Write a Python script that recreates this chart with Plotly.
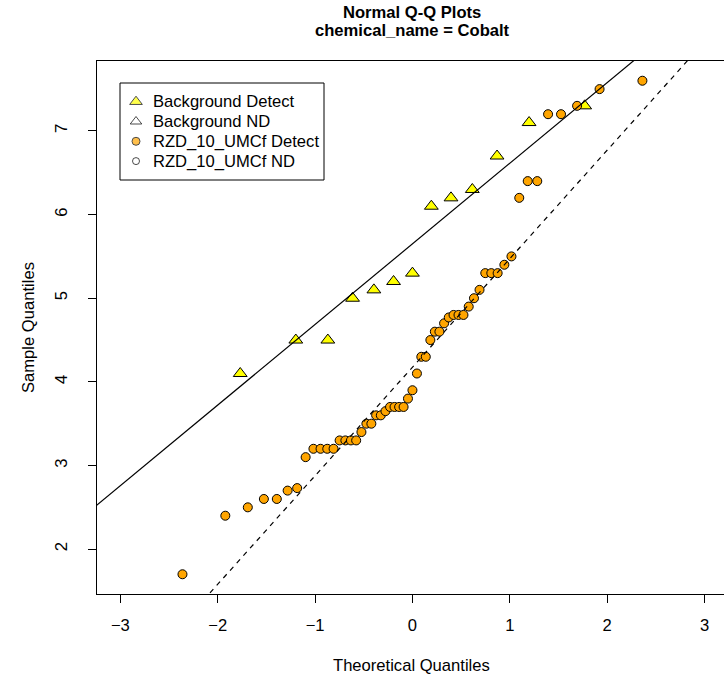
import plotly.graph_objects as go
import numpy as np

# Normal Q-Q data for Cobalt
bg_theo = [-1.769, -1.198, -0.869, -0.615, -0.396, -0.194, 0.0,
           0.194, 0.396, 0.615, 0.869, 1.198, 1.769]
bg_vals = [4.1, 4.5, 4.5, 5.0, 5.1, 5.2, 5.3, 6.1, 6.2, 6.3, 6.7, 7.1, 7.3]

rzd_theo = [-2.362, -1.922, -1.691, -1.526, -1.393, -1.282, -1.184, -1.097,
            -1.017, -0.944, -0.875, -0.810, -0.748, -0.689, -0.632, -0.578,
            -0.524, -0.473, -0.422, -0.373, -0.325, -0.277, -0.230, -0.184,
            -0.137, -0.091, -0.046, 0.0,
            0.046, 0.091, 0.137, 0.184, 0.230, 0.277, 0.325, 0.373, 0.422,
            0.473, 0.524, 0.578, 0.632, 0.689, 0.748, 0.810, 0.875, 0.944,
            1.017, 1.097, 1.184, 1.282, 1.393, 1.526, 1.691, 1.922, 2.362]
rzd_vals = [1.7, 2.4, 2.5, 2.6, 2.6, 2.7, 2.73, 3.1, 3.2, 3.2, 3.2, 3.2,
            3.3, 3.3, 3.3, 3.3, 3.4, 3.5, 3.5, 3.6, 3.6, 3.65, 3.7, 3.7,
            3.7, 3.7, 3.8, 3.9, 4.1, 4.3, 4.3, 4.5, 4.6, 4.6, 4.7, 4.77,
            4.8, 4.8, 4.8, 4.9, 5.0, 5.1, 5.3, 5.3, 5.3, 5.4, 5.5, 6.2,
            6.4, 6.4, 7.2, 7.2, 7.3, 7.5, 7.6]

legend_labels = ["Background Detect", "Background ND",
                 "RZD_10_UMCf Detect", "RZD_10_UMCf ND"]

x_ticks = [-3, -2, -1, 0, 1, 2, 3]
y_ticks = [2, 3, 4, 5, 6, 7]

FONT = "Liberation Sans, Arial, sans-serif"
FS = 16.6
Z75 = 0.6745  # qnorm(0.75)

# plot box in page pixels (body margin is removed below)
L, T, R, B = 97, 61, 0, 680 - 594
PW, PH = 724 - L - R, 680 - T - B


def px(x):  # page x pixel -> paper fraction
    return (x - L) / PW


def py(y):  # page y pixel -> paper fraction
    return (680 - B - y) / PH


def qqline(vals):
    # line through the first and third quartiles, like R's qqline
    q25, q75 = np.percentile(vals, [25, 75])
    slope = (q75 - q25) / (2 * Z75)
    icpt = q25 + Z75 * slope
    xs = np.array([-4.0, 4.0])
    return xs, icpt + slope * xs


fig = go.Figure()

fig.add_trace(go.Scatter(x=bg_theo, y=bg_vals, mode="markers", showlegend=False,
                         marker=dict(symbol="triangle-up", size=12, color="#ffff00",
                                     line=dict(color="black", width=1))))
fig.add_trace(go.Scatter(x=rzd_theo, y=rzd_vals, mode="markers", showlegend=False,
                         marker=dict(symbol="circle", size=9, color="#ffa500",
                                     line=dict(color="black", width=1))))

lx, ly = qqline(bg_vals)
fig.add_trace(go.Scatter(x=lx, y=ly, mode="lines", showlegend=False, hoverinfo="skip",
                         line=dict(color="black", width=1.2)))
lx, ly = qqline(rzd_vals)
fig.add_trace(go.Scatter(x=lx, y=ly, mode="lines", showlegend=False, hoverinfo="skip",
                         line=dict(color="black", width=1.2, dash="5px,5px")))

# hand-drawn legend (R style: tight rows), symbols on an overlay axis in paper units
leg_rows = [101.7, 121.5, 141.3, 161.1]
fig.add_trace(go.Scatter(
    x=[px(136)] * 4, y=[py(v) for v in leg_rows], xaxis="x2", yaxis="y2",
    mode="markers", showlegend=False, hoverinfo="skip",
    marker=dict(symbol=["triangle-up", "triangle-up-open", "circle", "circle-open"],
                size=[11, 10, 8, 7], color=["#ffff00", "black", "#ffa500", "black"],
                line=dict(color="black", width=1))))

axis_common = dict(showgrid=False, zeroline=False, showline=True, linecolor="black",
                   linewidth=1, ticks="outside", ticklen=8, tickcolor="black",
                   tickfont=dict(family=FONT, size=FS, color="black"))

fig.update_xaxes(range=[-3.24, 3.2], tickvals=x_ticks, mirror=True,
                 ticklabelstandoff=8, **axis_common)
fig.update_yaxes(range=[1.464, 7.836], tickvals=y_ticks, tickangle=-90,
                 ticklabelstandoff=14, **axis_common)

annots = [
    dict(text="<b>Normal Q-Q Plots</b>", x=px(412), y=py(12)),
    dict(text="<b>chemical_name = Cobalt</b>", x=px(412), y=py(31)),
    dict(text="Theoretical Quantiles", x=px(411), y=py(665)),
    dict(text="Sample Quantiles", x=px(28), y=py(328), textangle=-90),
]
for lab, v in zip(legend_labels, leg_rows):
    annots.append(dict(text=lab, x=px(151), y=py(v), xanchor="left"))
for a in annots:
    a.setdefault("xanchor", "center")
    a.update(xref="paper", yref="paper", yanchor="middle", showarrow=False,
             font=dict(family=FONT, size=FS, color="black"))

fig.update_layout(
    width=724, height=680,
    margin=dict(l=L, r=R, t=T, b=B),
    plot_bgcolor="white", paper_bgcolor="white",
    font=dict(family=FONT, size=FS, color="black"),
    showlegend=False,
    xaxis2=dict(range=[0, 1], visible=False, overlaying="x", fixedrange=True),
    yaxis2=dict(range=[0, 1], visible=False, overlaying="y", fixedrange=True),
    shapes=[dict(type="rect", xref="paper", yref="paper",
                 x0=px(120), x1=px(324), y0=py(180), y1=py(83),
                 line=dict(color="black", width=1), fillcolor="white", layer="below")],
    annotations=annots,
)

fig.write_html("out.html", config={"displayModeBar": False},
               post_script="document.body.style.margin = '0px';")
